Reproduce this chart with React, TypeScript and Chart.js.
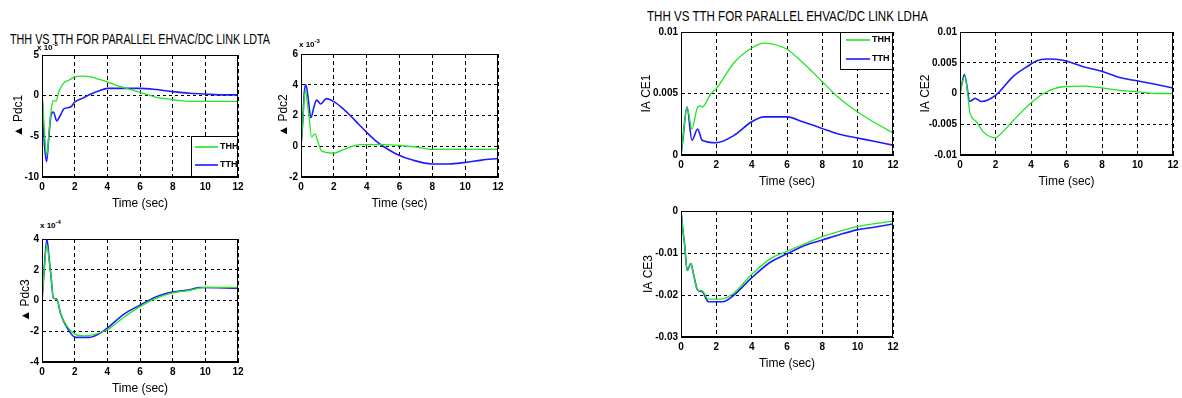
import React, { useEffect, useLayoutEffect, useRef } from 'react';
import { Chart, registerables } from 'chart.js';
Chart.register(...registerables);

const FONT = "'Liberation Sans', Arial, sans-serif";
const GREEN = '#22e622';
const BLUE = '#1c1cff';

const seriesLabels = ['THH', 'TTH'];
const xTicks = { min: 0, max: 12, step: 2 };

// Pdc1 (x 10^-3)
const p1ThhT = [0, 0.05, 0.15, 0.3, 0.45, 0.6, 0.7, 0.85, 1.05, 1.35, 1.65, 2, 2.5, 3, 3.5, 4, 4.5, 5, 5.5, 6, 6.5, 7, 7.5, 8, 9, 10, 11, 12];
const p1ThhV = [0, -1, -4.5, -7.3, -4, -1.2, -0.6, -0.7, 0.6, 1.6, 1.9, 2.3, 2.4, 2.3, 2.0, 1.7, 1.3, 1.0, 0.7, 0.4, 0.1, -0.2, -0.35, -0.5, -0.7, -0.7, -0.7, -0.7];
const p1TthT = [0, 0.05, 0.15, 0.28, 0.4, 0.55, 0.7, 0.9, 1.1, 1.35, 1.75, 2, 2.5, 3, 3.5, 4, 5, 6, 7, 8, 9, 10, 11, 12];
const p1TthV = [0, -2, -6, -8.1, -5.5, -2.4, -2.0, -3.1, -2.5, -1.6, -1.4, -0.8, -0.3, 0.2, 0.6, 0.9, 0.9, 0.9, 0.75, 0.5, 0.3, 0.2, 0.1, 0.1];

// Pdc2 (x 10^-3)
const p2ThhT = [0, 0.1, 0.25, 0.45, 0.65, 0.85, 1.0, 1.25, 2, 2.5, 3, 3.6, 5, 6, 7, 8, 12];
const p2ThhV = [0, 1.5, 3.6, 2.3, 0.6, 0.8, 0.4, -0.3, -0.45, -0.25, -0.05, 0.1, 0.1, 0.05, -0.05, -0.2, -0.2];
const p2TthT = [0, 0.1, 0.2, 0.3, 0.45, 0.6, 0.8, 0.95, 1.2, 1.55, 2, 2.5, 3, 3.5, 4, 4.5, 5, 5.8, 6.8, 8, 9, 10, 11, 12];
const p2TthV = [0, 1.5, 3.5, 4.0, 3.0, 1.85, 2.6, 3.0, 2.75, 3.1, 2.9, 2.5, 2.0, 1.45, 0.9, 0.4, 0.0, -0.5, -0.9, -1.15, -1.15, -1.05, -0.9, -0.8];

// Pdc3 (x 10^-4)
const p3ThhT = [0, 0.1, 0.3, 0.45, 0.55, 0.7, 0.9, 1.15, 1.55, 2.05, 2.6, 3.2, 4, 5, 6, 7, 8, 9, 10, 12];
const p3ThhV = [0, 1.5, 3.6, 2.5, 1.6, 0.15, 0.1, -0.9, -1.7, -2.2, -2.3, -2.2, -1.9, -1.1, -0.4, 0.15, 0.5, 0.65, 0.85, 0.85];
const p3TthT = [0, 0.1, 0.3, 0.45, 0.55, 0.7, 0.9, 1.15, 1.55, 2.05, 2.9, 3.6, 4, 5, 6, 7, 8, 9, 9.7, 12];
const p3TthV = [0, 1.5, 4.0, 2.6, 1.6, 0.15, 0.1, -0.9, -1.8, -2.4, -2.4, -2.1, -1.8, -0.9, -0.3, 0.25, 0.55, 0.7, 0.85, 0.8];

// IACE1
const p4ThhT = [0, 0.1, 0.34, 0.62, 0.94, 1.1, 1.2, 1.7, 2, 3, 4, 4.7, 5.25, 6, 6.9, 7.9, 8.9, 9.9, 11, 12];
const p4ThhV = [0, 0.0012, 0.0039, 0.0021, 0.0039, 0.004, 0.0039, 0.005, 0.0054, 0.0075, 0.0087, 0.0091, 0.009, 0.0086, 0.0075, 0.0061, 0.0047, 0.0036, 0.0026, 0.0018];
const p4TthT = [0, 0.1, 0.34, 0.62, 0.94, 1.2, 2, 3, 4, 4.7, 6, 6.9, 7.9, 8.9, 9.9, 11, 12];
const p4TthV = [0, 0.0012, 0.0039, 0.0012, 0.0021, 0.0012, 0.001, 0.0016, 0.0027, 0.0031, 0.0031, 0.0027, 0.0022, 0.0017, 0.0014, 0.0011, 0.0008];

// IACE2
const p5ThhT = [0, 0.1, 0.28, 0.56, 0.94, 1.3, 2, 2.25, 3, 3.9, 4.7, 5.8, 6.9, 8, 9, 9.9, 11, 12];
const p5ThhV = [0, 0.0015, 0.0028, -0.0031, -0.0046, -0.0062, -0.0072, -0.0067, -0.0044, -0.0018, 0, 0.0011, 0.0012, 0.0009, 0.0005, 0.0003, 0, 0];
const p5TthT = [0, 0.1, 0.25, 0.56, 0.85, 1.2, 2, 3, 3.9, 4.3, 4.9, 5.8, 6.9, 8, 9, 9.9, 11, 12];
const p5TthV = [0, 0.0015, 0.0031, -0.0013, -0.0008, -0.0013, -0.0003, 0.0028, 0.0046, 0.0053, 0.0056, 0.0054, 0.0044, 0.0036, 0.0026, 0.0021, 0.0015, 0.0009];

// IACE3
const p6ThhT = [0, 0.1, 0.2, 0.35, 0.56, 0.7, 0.94, 1.2, 1.55, 2.25, 3, 3.95, 5.05, 6, 7, 8, 9, 9.95, 11, 12];
const p6ThhV = [0, -0.0043, -0.0078, -0.0141, -0.0125, -0.0149, -0.0188, -0.019, -0.021, -0.021, -0.0195, -0.0153, -0.0114, -0.0096, -0.0078, -0.0061, -0.0048, -0.0037, -0.003, -0.0024];
const p6TthT = [0, 0.1, 0.2, 0.35, 0.56, 0.7, 0.94, 1.2, 1.55, 2.35, 3, 3.95, 5.05, 6, 7, 8, 9, 9.95, 11, 12];
const p6TthV = [0, -0.0043, -0.0078, -0.0141, -0.0125, -0.0149, -0.0188, -0.0192, -0.0216, -0.0216, -0.02, -0.0161, -0.0122, -0.0102, -0.0082, -0.0069, -0.0056, -0.0045, -0.0038, -0.0031];

const titleLeft = 'THH VS TTH FOR PARALLEL EHVAC/DC LINK LDTA';
const titleRight = 'THH VS TTH FOR PARALLEL EHVAC/DC LINK LDHA';
const xTitle = 'Time (sec)';

type Panel = {
  id: string;
  box: { l: number; t: number; r: number; b: number };
  y: { min: number; max: number; step: number };
  yTitle: string;
  yTitleD: number;
  thh: [number[], number[]];
  tth: [number[], number[]];
  legend?: { anchor: 'br' | 'tr'; w: number; h: number; rows: number[]; lx0: number; lx1: number; tx: number };
};

const panels: Panel[] = [
  { id: 'p1', box: { l: 42, t: 54, r: 238, b: 177 }, y: { min: -10, max: 5, step: 5 }, yTitle: '▲ Pdc1', yTitleD: 23,
    thh: [p1ThhT, p1ThhV], tth: [p1TthT, p1TthV],
    legend: { anchor: 'br', w: 47, h: 41, rows: [11, 29], lx0: 4, lx1: 27, tx: 29 } },
  { id: 'p2', box: { l: 301, t: 53, r: 498, b: 177 }, y: { min: -2, max: 6, step: 2 }, yTitle: '▲ Pdc2', yTitleD: 17,
    thh: [p2ThhT, p2ThhV], tth: [p2TthT, p2TthV] },
  { id: 'p3', box: { l: 42, t: 238, r: 238, b: 362 }, y: { min: -4, max: 4, step: 2 }, yTitle: '▲ Pdc3', yTitleD: 16,
    thh: [p3ThhT, p3ThhV], tth: [p3TthT, p3TthV] },
  { id: 'p4', box: { l: 681, t: 31, r: 893, b: 155 }, y: { min: 0, max: 0.01, step: 0.005 }, yTitle: 'IA CE1', yTitleD: 34,
    thh: [p4ThhT, p4ThhV], tth: [p4TthT, p4TthV],
    legend: { anchor: 'tr', w: 53, h: 38, rows: [8, 27], lx0: 6, lx1: 30, tx: 32 } },
  { id: 'p5', box: { l: 960, t: 31, r: 1173, b: 155 }, y: { min: -0.01, max: 0.01, step: 0.005 }, yTitle: 'IA CE2', yTitleD: 34,
    thh: [p5ThhT, p5ThhV], tth: [p5TthT, p5TthV] },
  { id: 'p6', box: { l: 681, t: 210, r: 893, b: 337 }, y: { min: -0.03, max: 0, step: 0.01 }, yTitle: 'IA CE3', yTitleD: 32,
    thh: [p6ThhT, p6ThhV], tth: [p6TthT, p6TthV] },
];

const YW = 45;
const PT = 8;
const PR = 10;
const XH = 40;
const XTITLE_SIZE = 12;
const YTITLE_SIZE = 12;

const framePlugin = {
  id: 'frameBox',
  afterDraw(chart: any, _args: any, opts: any) {
    const { ctx, chartArea: a } = chart;
    ctx.save();
    ctx.setLineDash([]);
    ctx.strokeStyle = '#000';
    ctx.lineWidth = 1;
    ctx.strokeRect(a.left + 0.5, a.top + 0.5, a.right - a.left - 1, a.bottom - a.top - 1);
    const lg = opts && opts.legend;
    if (lg) {
      const x0 = a.right - lg.w;
      const y0 = lg.anchor === 'br' ? a.bottom - lg.h : a.top;
      ctx.fillStyle = '#fff';
      ctx.fillRect(x0, y0, lg.w, lg.h);
      ctx.strokeRect(x0 + 0.5, y0 + 0.5, lg.w - 1, lg.h - 1);
      chart.data.datasets.forEach((ds: any, i: number) => {
        const yy = y0 + lg.rows[i];
        ctx.strokeStyle = ds.borderColor;
        ctx.lineWidth = 1.6;
        ctx.beginPath();
        ctx.moveTo(x0 + lg.lx0, yy);
        ctx.lineTo(x0 + lg.lx1, yy);
        ctx.stroke();
        ctx.fillStyle = '#000';
        ctx.font = `bold 9px ${FONT}`;
        ctx.textBaseline = 'middle';
        ctx.textAlign = 'left';
        ctx.fillText(ds.label, x0 + lg.tx, yy);
      });
    }
    ctx.restore();
  },
};

const fmt = (v: number) => String(Number(Number(v).toFixed(4)));

function PanelChart({ p }: { p: Panel }) {
  const ref = useRef<HTMLCanvasElement | null>(null);
  const W = YW + (p.box.r - p.box.l) + PR;
  const H = PT + (p.box.b - p.box.t) + XH;
  useEffect(() => {
    if (!ref.current) return;
    const toPts = (s: [number[], number[]]) => s[0].map((x, i) => ({ x, y: s[1][i] }));
    const tickFont = { family: FONT, size: 10, weight: 'bold' as const };
    const chart = new Chart(ref.current, {
      type: 'line',
      data: {
        datasets: [
          { label: seriesLabels[0], data: toPts(p.thh), borderColor: GREEN, borderWidth: 1.3, pointRadius: 0, fill: false, cubicInterpolationMode: 'monotone' },
          { label: seriesLabels[1], data: toPts(p.tth), borderColor: BLUE, borderWidth: 1.6, pointRadius: 0, fill: false, cubicInterpolationMode: 'monotone' },
        ],
      },
      options: {
        animation: false,
        responsive: false,
        events: [],
        layout: { padding: { top: PT, right: PR, left: 0, bottom: 0 } },
        plugins: {
          legend: { display: false },
          tooltip: { enabled: false },
          title: { display: false },
          frameBox: { legend: p.legend },
        } as any,
        scales: {
          x: {
            type: 'linear',
            min: xTicks.min,
            max: xTicks.max,
            ticks: { stepSize: xTicks.step, autoSkip: false, maxRotation: 0, padding: 4, color: '#000', font: tickFont },
            grid: { color: '#000', lineWidth: 1, drawTicks: false },
            border: { display: true, color: '#000', width: 1, dash: [4, 3] },
            title: { display: true, text: xTitle, color: '#000', font: { family: FONT, size: XTITLE_SIZE }, padding: { top: 0, bottom: XH - 27 - XTITLE_SIZE * 0.6 } },
            afterFit: (s: any) => { s.height = XH; },
          },
          y: {
            type: 'linear',
            min: p.y.min,
            max: p.y.max,
            ticks: { stepSize: p.y.step, autoSkip: false, padding: 3, color: '#000', font: tickFont, callback: (v: any) => fmt(v) },
            grid: { color: '#000', lineWidth: 1, drawTicks: false },
            border: { display: true, color: '#000', width: 1, dash: [3, 3] },
            title: { display: true, text: p.yTitle, color: '#000', font: { family: FONT, size: YTITLE_SIZE }, padding: { top: YW - p.yTitleD - YTITLE_SIZE * 0.6, bottom: 0 } },
            afterFit: (s: any) => { s.width = YW; },
          },
        },
      },
      plugins: [framePlugin],
    } as any);
    return () => chart.destroy();
  }, []);
  return (
    <canvas
      ref={ref}
      width={W}
      height={H}
      style={{ position: 'absolute', left: p.box.l - YW, top: p.box.t - PT, width: W, height: H }}
    />
  );
}

function FitTitle({ text, left, top, width }: { text: string; left: number; top: number; width: number }) {
  const ref = useRef<HTMLSpanElement | null>(null);
  useLayoutEffect(() => {
    const el = ref.current;
    if (!el) return;
    const w = el.getBoundingClientRect().width;
    if (w > 0) el.style.transform = `scaleX(${width / w})`;
  }, []);
  return (
    <span
      ref={ref}
      style={{ position: 'absolute', left, top, fontFamily: FONT, fontSize: 14, lineHeight: 1, whiteSpace: 'nowrap', color: '#000', transformOrigin: '0 0', display: 'inline-block' }}
    >
      {text}
    </span>
  );
}

const expStyle: React.CSSProperties = { position: 'absolute', fontFamily: FONT, fontSize: 8, fontWeight: 'bold', whiteSpace: 'nowrap', lineHeight: 1 };
const supStyle: React.CSSProperties = { position: 'relative', top: -4, fontSize: 6 };

export default function App() {
  return (
    <div style={{ position: 'fixed', left: 0, top: 0, width: 1182, height: 398, background: '#fff', overflow: 'hidden' }}>
      <FitTitle text={titleLeft} left={10} top={32} width={260} />
      <FitTitle text={titleRight} left={647} top={9} width={281} />
      {panels.map((p) => <PanelChart key={p.id} p={p} />)}
      <div style={{ ...expStyle, left: 37, top: 44 }}>x 10<span style={supStyle}>-3</span></div>
      <div style={{ ...expStyle, left: 299, top: 41 }}>x 10<span style={supStyle}>-3</span></div>
      <div style={{ ...expStyle, left: 40, top: 222 }}>x 10<span style={supStyle}>-4</span></div>
    </div>
  );
}
